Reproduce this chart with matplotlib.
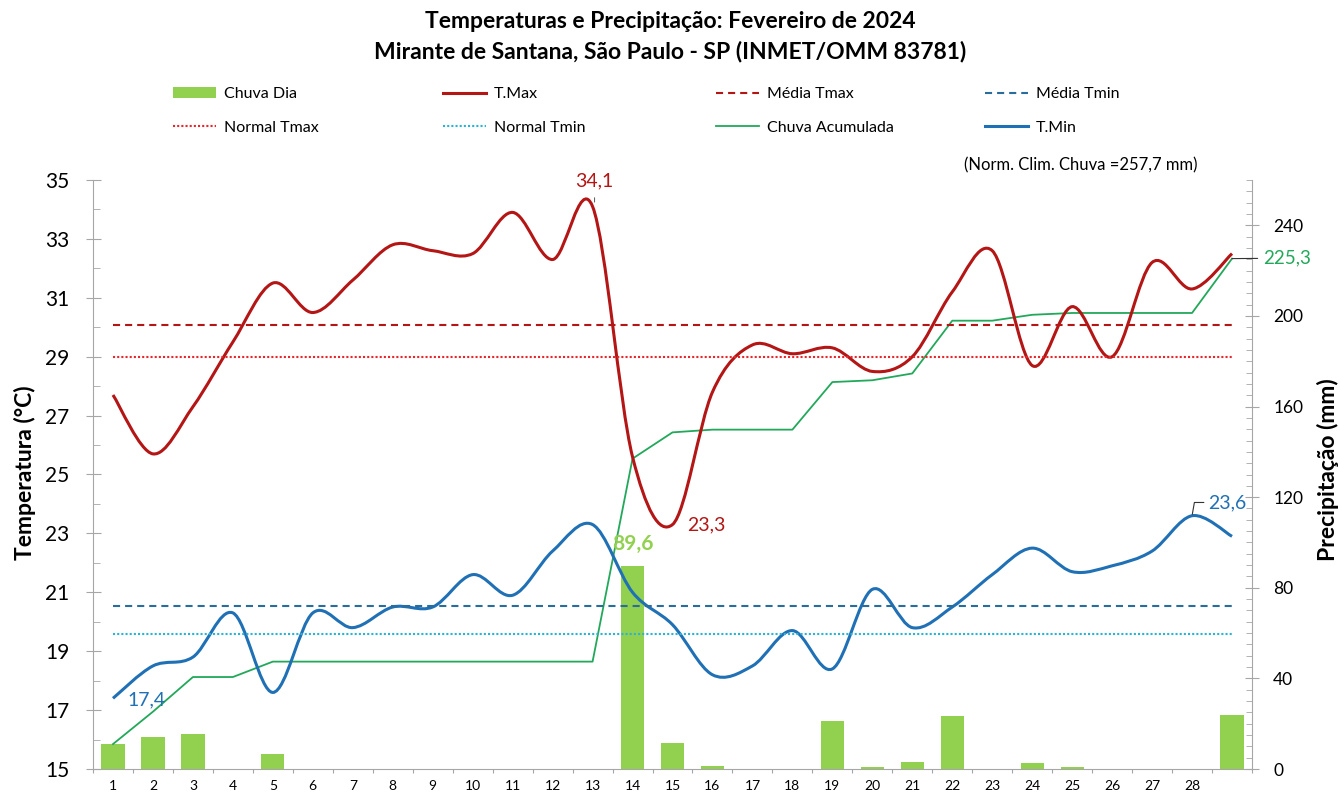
import numpy as np
import matplotlib
matplotlib.use("Agg")
import matplotlib.pyplot as plt
from matplotlib.path import Path
from matplotlib.patches import PathPatch, Patch
from matplotlib.lines import Line2D
from matplotlib.ticker import FixedLocator

plt.rcParams['font.family'] = ['Lato', 'DejaVu Sans']

# dados (fevereiro 2024, 29 dias)
days = list(range(1, 30))
day_labels = [str(d) for d in range(1, 29)] + [""]
tmax = [27.7, 25.7, 27.3, 29.5, 31.5, 30.5, 31.6, 32.8, 32.6, 32.5,
        33.9, 32.3, 34.1, 25.6, 23.3, 27.8, 29.4, 29.1, 29.3, 28.5,
        29.0, 31.2, 32.6, 28.7, 30.7, 29.0, 32.2, 31.3, 32.5]
tmin = [17.4, 18.5, 18.8, 20.3, 17.6, 20.3, 19.8, 20.5, 20.5, 21.6,
        20.9, 22.4, 23.3, 21.0, 19.9, 18.2, 18.5, 19.7, 18.4, 21.1,
        19.8, 20.5, 21.6, 22.5, 21.7, 21.9, 22.4, 23.6, 22.9]
chuva = [11.0, 14.3, 15.3, 0.0, 6.8, 0.0, 0.0, 0.0, 0.0, 0.0,
         0.0, 0.0, 0.0, 89.6, 11.6, 1.2, 0.0, 0.0, 21.0, 0.8,
         3.0, 23.3, 0.0, 2.6, 0.8, 0.0, 0.0, 0.0, 24.0]
normal_tmax = 29.0
normal_tmin = 19.6
norm_chuva = "257,7"

RED = '#B41515'
RED_NORM = '#E8262B'
BLUE = '#1F70B5'
BLUE_MED = '#2A6C9A'
CYAN = '#2BB3D6'
GREEN = '#22A85A'
BAR = '#92D050'
GRAY = '#A6A6A6'


def smooth_path(x, y):
    # curva suavizada estilo Excel (bezier pelos pontos)
    pts = np.column_stack([x, y]).astype(float)
    n = len(pts)
    verts = [pts[0]]
    codes = [Path.MOVETO]
    for i in range(n - 1):
        p_prev = pts[i - 1] if i > 0 else pts[i]
        p_next2 = pts[i + 2] if i + 2 < n else pts[i + 1]
        c1 = pts[i] + (pts[i + 1] - p_prev) / 6
        c2 = pts[i + 1] - (p_next2 - pts[i]) / 6
        verts += [c1, c2, pts[i + 1]]
        codes += [Path.CURVE4] * 3
    return Path(verts, codes)


fig = plt.figure(figsize=(13.4, 7.94), dpi=100)
ax = fig.add_axes([93 / 1340, 1 - 769 / 794, 1159 / 1340, 589 / 794])
ax2 = ax.twinx()
ax.set_zorder(ax2.get_zorder() + 1)
ax.patch.set_visible(False)

# precipitacao
ax2.bar(days, chuva, width=0.58, color=BAR, zorder=2)
acum = np.cumsum(chuva)
ax2.plot(days, acum, color=GREEN, lw=1.3, zorder=3)
ax2.set_ylim(0, 260)

# temperaturas
media_tmax = np.mean(tmax)
media_tmin = np.mean(tmin)
dash = (0, (3.4, 2.4))
dot = (0, (1, 1))
ax.hlines(media_tmax, days[0], days[-1], colors=RED, linestyles=dash, lw=1.5)
ax.hlines(normal_tmax, days[0], days[-1], colors=RED_NORM, linestyles=dot, lw=1.5)
ax.hlines(media_tmin, days[0], days[-1], colors=BLUE_MED, linestyles=dash, lw=1.5)
ax.hlines(normal_tmin, days[0], days[-1], colors=CYAN, linestyles=dot, lw=1.5)
ax.add_patch(PathPatch(smooth_path(days, tmax), fill=False, edgecolor=RED, lw=2.2))
ax.add_patch(PathPatch(smooth_path(days, tmin), fill=False, edgecolor=BLUE, lw=2.2))

ax.set_xlim(0.5, 29.5)
ax.set_ylim(15, 35)

# eixos e ticks
for s in ['top', 'right']:
    ax.spines[s].set_visible(False)
for s in ['top', 'left', 'bottom']:
    ax2.spines[s].set_visible(False)
ax.spines['left'].set_color(GRAY)
ax.spines['bottom'].set_color(GRAY)
ax2.spines['right'].set_color(GRAY)

ax.yaxis.set_major_locator(FixedLocator(np.arange(15, 36, 2)))
ax.yaxis.set_minor_locator(FixedLocator(np.arange(16, 35, 2)))
ax.tick_params(axis='y', which='major', direction='inout', length=10.8, color=GRAY,
               labelsize=15, pad=11.5)
ax.tick_params(axis='y', which='minor', direction='in', length=5, color=GRAY)

ax.set_xticks(np.arange(0.5, 30, 1))
ax.set_xticklabels([])
ax.set_xticks(days, minor=True)
ax.set_xticklabels(day_labels, minor=True)
ax.tick_params(axis='x', which='major', direction='out', length=3, color=GRAY)
ax.tick_params(axis='x', which='minor', length=0, labelsize=10, pad=8)

ax2.yaxis.set_major_locator(FixedLocator(np.arange(0, 241, 40)))
ax2.yaxis.set_minor_locator(FixedLocator([v for v in range(5, 261, 5) if v % 40]))
ax2.tick_params(axis='y', which='major', direction='inout', length=9.4, color=GRAY,
                labelsize=12.5, pad=10.6)
ax2.tick_params(axis='y', which='minor', direction='in', length=4.3, color=GRAY)

fig.text(25 / 1340, 1 - 473 / 794, "Temperatura (°C)", rotation=90, ha='center', va='center',
         fontsize=16.5, fontweight='bold')
fig.text(1328 / 1340, 1 - 470 / 794, "Precipitação (mm)", rotation=90, ha='center', va='center',
         fontsize=16.5, fontweight='bold')

# rotulos
ax.annotate("34,1", xy=(13.05, tmax[12] + 0.15), xytext=(13.05, 34.97), ha='center', va='center',
            fontsize=14, color=RED, annotation_clip=False,
            arrowprops=dict(arrowstyle='-', color='#555555', lw=0.7, shrinkA=4, shrinkB=0))
ax.text(15.85, 23.3, "23,3", ha='center', va='center', fontsize=14, color=RED)
ax.text(1.83, 17.34, "17,4", ha='center', va='center', fontsize=14, color=BLUE)
ax.annotate("23,6", xy=(28, 23.6), xytext=(28.4, 24.05), ha='left', va='center',
            fontsize=14, color=BLUE, annotation_clip=False,
            arrowprops=dict(arrowstyle='-', color='#333333', lw=0.8, shrinkA=1, shrinkB=1,
                            connectionstyle='angle,angleA=0,angleB=80,rad=0'))
ax2.annotate("225,3", xy=(29, acum[-1]), xytext=(29.78, 225.5), ha='left', va='center',
             fontsize=13.5, color=GREEN, annotation_clip=False,
             arrowprops=dict(arrowstyle='-', color='#333333', lw=0.8, shrinkA=2, shrinkB=0))
ax2.text(14, 99.5, "89,6", ha='center', va='center', fontsize=15, fontweight='bold', color=BAR)

fig.text(1198 / 1340, 1 - 165 / 794, "(Norm. Clim. Chuva =%s mm)" % norm_chuva,
         ha='right', va='center', fontsize=12)

# titulo
fig.text(0.5, 1 - 21 / 794, "Temperaturas e Precipitação: Fevereiro de 2024",
         ha='center', va='center', fontsize=16.5, fontweight='bold')
fig.text(0.5, 1 - 52 / 794, "Mirante de Santana, São Paulo - SP (INMET/OMM 83781)",
         ha='center', va='center', fontsize=16.5, fontweight='bold')

# legenda em 4 colunas
h_bar = Patch(facecolor=BAR)
h_tmax = Line2D([], [], color=RED, lw=2.2)
h_mtmax = Line2D([], [], color=RED, lw=1.5, ls=dash)
h_mtmin = Line2D([], [], color=BLUE_MED, lw=1.5, ls=dash)
h_ntmax = Line2D([], [], color=RED_NORM, lw=1.5, ls=dot)
h_ntmin = Line2D([], [], color=CYAN, lw=1.5, ls=dot)
h_acum = Line2D([], [], color=GREEN, lw=1.3)
h_tmin = Line2D([], [], color=BLUE, lw=2.2)
cols = [([h_bar, h_ntmax], ["Chuva Dia", "Normal Tmax"]),
        ([h_tmax, h_ntmin], ["T.Max", "Normal Tmin"]),
        ([h_mtmax, h_acum], ["Média Tmax", "Chuva Acumulada"]),
        ([h_mtmin, h_tmin], ["Média Tmin", "T.Min"])]
col_x = [173, 443, 716, 985]
for (hs, ls), x in zip(cols, col_x):
    fig.legend(hs, ls, loc='upper left', bbox_to_anchor=(x / 1340, 1 - 87 / 794),
               frameon=False, fontsize=11.5, handlelength=2.7, handletextpad=0.5,
               labelspacing=1.2, borderpad=0, borderaxespad=0)

fig.savefig("out.png", dpi=100)
